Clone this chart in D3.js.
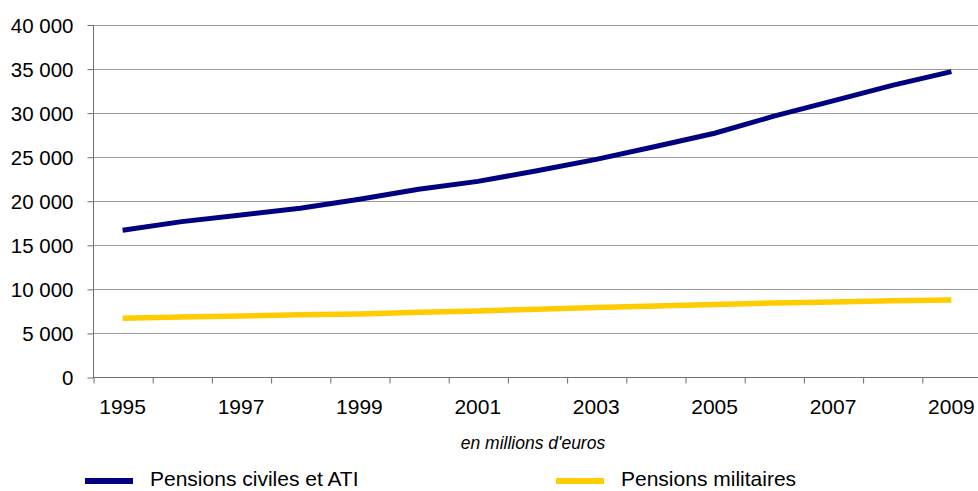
<!DOCTYPE html>
<html>
<head>
<meta charset="utf-8">
<script src="https://cdn.jsdelivr.net/npm/d3@7"></script>
<style>
  body { margin: 0; background: #fff; }
  svg { display: block; font-family: "Liberation Sans", Arial, sans-serif; }
</style>
</head>
<body>
<svg id="chart" width="978" height="491"></svg>
<script>
// *** Data (millions d'euros) ***
var years = d3.range(1995, 2010);
var yearLabels = [1995, 1997, 1999, 2001, 2003, 2005, 2007, 2009];
var civiles = [16650, 17630, 18390, 19150, 20170, 21300, 22200, 23400, 24700, 26150, 27660, 29600, 31330, 33100, 34650];
var militaires = [6670, 6800, 6930, 7050, 7160, 7350, 7500, 7700, 7880, 8070, 8220, 8400, 8520, 8640, 8750];
var yTicks = [0, 5000, 10000, 15000, 20000, 25000, 30000, 35000, 40000];
var seriesNames = ["Pensions civiles et ATI", "Pensions militaires"];
var seriesColors = ["#000080", "#ffcc00"];

var chart = d3.select("#chart");

var margin = {left: 93, right: 981, top: 24.5, bottom: 377};

var x = d3.scaleBand().domain(years).range([margin.left, margin.right]);
var xIndex = d3.scaleLinear().domain([0, years.length]).range([margin.left, margin.right]);
var y = d3.scaleLinear().domain([0, 40000]).range([margin.bottom, margin.top]);

var locale = d3.formatLocale({decimal: ",", thousands: " ", grouping: [3], currency: ["", " €"]});
var fmt = locale.format(",d");

// gridlines
chart.append("g")
    .selectAll("line")
    .data(yTicks.filter(d => d > 0))
    .enter().append("line")
    .attr("x1", margin.left)
    .attr("x2", 978)
    .attr("y1", d => Math.round(y(d)) + 0.5)
    .attr("y2", d => Math.round(y(d)) + 0.5)
    .attr("stroke", "#9a9a9a")
    .attr("stroke-width", 1);

// y axis
var yAxisG = chart.append("g")
    .attr("transform", "translate(" + (margin.left + 0.5) + ",0.5)")
    .call(d3.axisLeft(y).tickValues(yTicks).tickFormat(fmt).tickSize(6).tickPadding(14));
yAxisG.select(".domain").attr("stroke", "#6f6f6f").attr("d", "M0," + y(40000) + "V" + y(0));
yAxisG.selectAll(".tick line").attr("stroke", "#6f6f6f");
yAxisG.selectAll("text").attr("font-size", 20.5).attr("fill", "#000").attr("dy", "0.35em");

// x axis tick marks at category boundaries
var xTickG = chart.append("g")
    .attr("transform", "translate(0.5," + (Math.round(y(0)) + 0.5) + ")")
    .call(d3.axisBottom(xIndex).tickValues(d3.range(0, years.length)).tickFormat("").tickSize(6));
xTickG.select(".domain").attr("stroke", "#6f6f6f").attr("d", "M" + margin.left + ",0H978");
xTickG.selectAll(".tick line").attr("stroke", "#6f6f6f");

// x axis labels
var xLabelG = chart.append("g")
    .attr("transform", "translate(0," + Math.round(y(0)) + ")")
    .call(d3.axisBottom(x).tickValues(yearLabels).tickSize(0).tickPadding(22));
xLabelG.select(".domain").remove();
xLabelG.selectAll("text").attr("font-size", 21).attr("fill", "#000");

// series lines
var lineMaker = d3.line()
    .x((d, i) => x(years[i]) + x.bandwidth() / 2)
    .y(d => y(d));

chart.append("path")
    .attr("d", lineMaker(militaires))
    .attr("fill", "none")
    .attr("stroke", seriesColors[1])
    .attr("stroke-width", 5.5);

chart.append("path")
    .attr("d", lineMaker(civiles))
    .attr("fill", "none")
    .attr("stroke", seriesColors[0])
    .attr("stroke-width", 5);

// unit note
chart.append("text")
    .attr("x", 533)
    .attr("y", 449)
    .attr("text-anchor", "middle")
    .attr("font-size", 17.5)
    .attr("font-style", "italic")
    .text("en millions d'euros");

// legend
var legendX = [85, 556];
var legendG = chart.selectAll(".legend")
    .data(seriesNames).enter().append("g")
    .attr("class", "legend")
    .attr("transform", (d, i) => "translate(" + legendX[i] + ",481)");

legendG.append("line")
    .attr("x1", 0)
    .attr("x2", 48)
    .attr("stroke", (d, i) => seriesColors[i])
    .attr("stroke-width", 6);

legendG.append("text")
    .attr("x", 65)
    .attr("y", 5)
    .attr("font-size", 21)
    .text(d => d);
</script>
</body>
</html>
